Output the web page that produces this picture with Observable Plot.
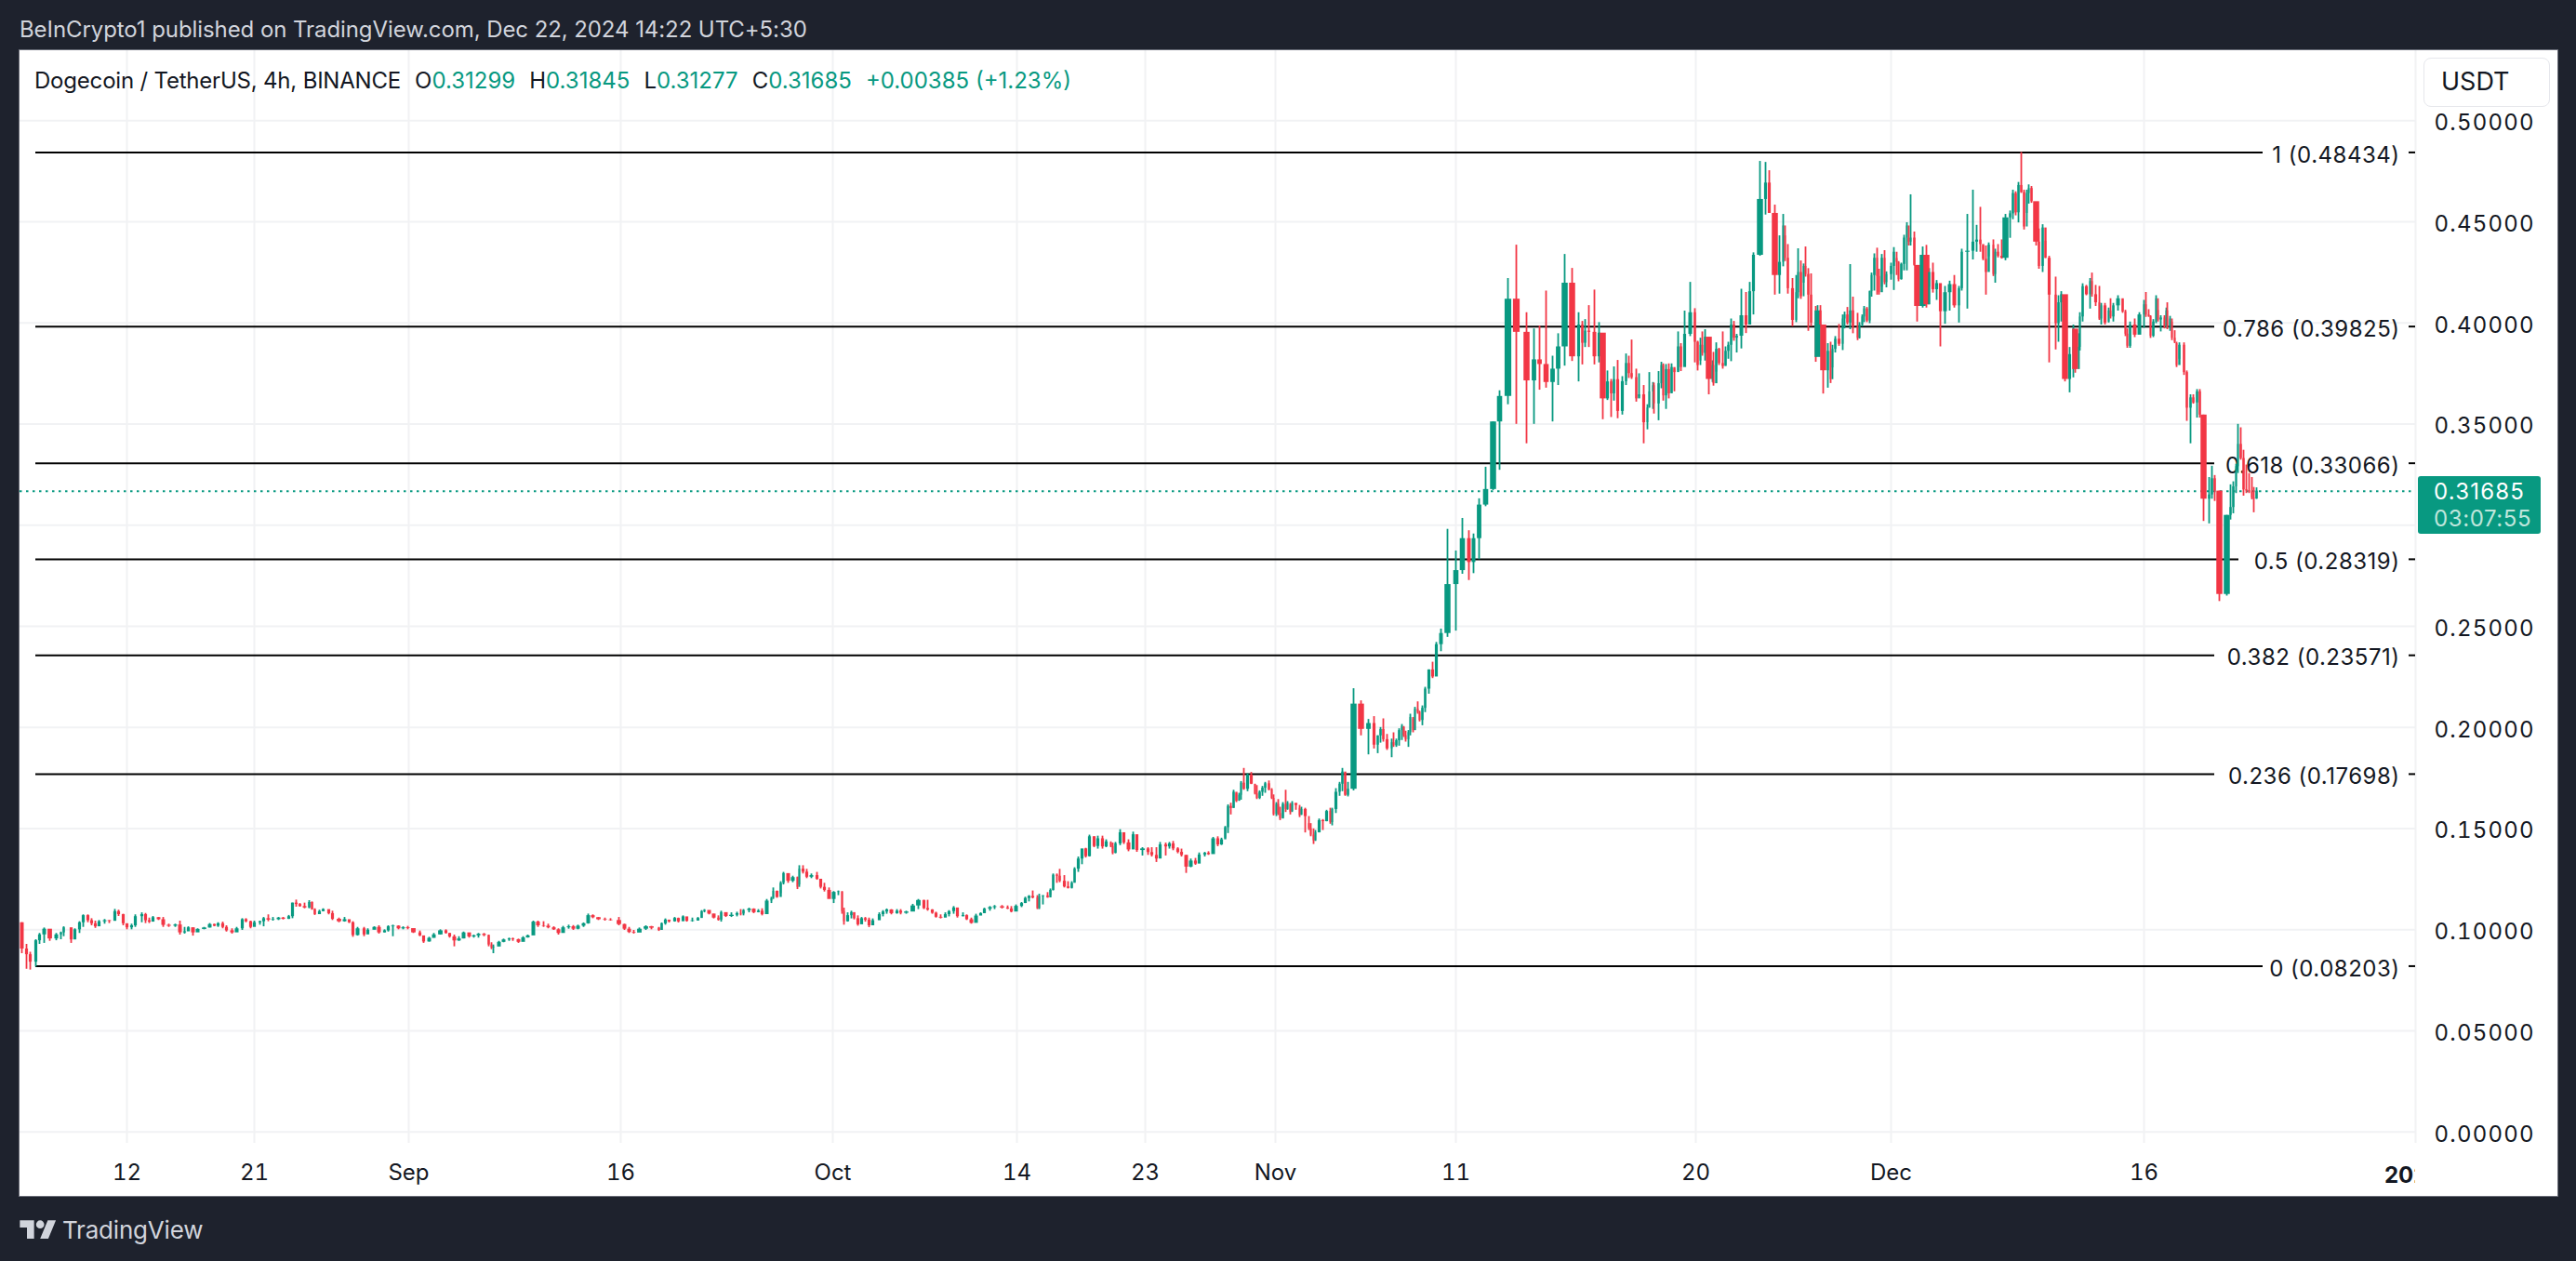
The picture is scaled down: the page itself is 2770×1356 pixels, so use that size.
<!DOCTYPE html>
<html>
<head>
<meta charset="utf-8">
<script src="https://cdn.jsdelivr.net/npm/d3@7"></script>
<script src="https://cdn.jsdelivr.net/npm/@observablehq/plot@0.6"></script>
<style>
  html, body { margin: 0; background: #1e222d; font-family: Inter, "Liberation Sans", sans-serif; }
  #page { position: relative; width: 2770px; height: 1356px; overflow: hidden; }
  #published { position: absolute; left: 21px; top: 17px; font-size: 24px; line-height: 30px; color: #d1d4dc; white-space: nowrap; letter-spacing: -0.08px; }
  #panel { position: absolute; left: 21px; top: 54px; width: 2729px; height: 1232px; background: #fff; box-shadow: 0 0 0 1px #6a6d78; }
  #panel svg { position: absolute; left: 0; top: 0; }
  #legend { position: absolute; left: 16px; top: 18px; height: 30px; font-size: 24px; line-height: 30px; color: #131722; white-space: nowrap; }
  #legend i { font-style: normal; letter-spacing: -0.2px; }
  #legend b { font-weight: 400; color: #089981; }
  #legend span { margin-left: 15px; }
  #usdt { position: absolute; left: 2585px; top: 8px; width: 134px; height: 51px; border: 1px solid #e6e7ec; border-radius: 8px; font-size: 27px; line-height: 49px; padding-left: 0; text-indent: 18px; color: #131722; }
  #badge { position: absolute; left: 2579px; top: 458px; width: 132px; height: 62px; border-radius: 3px; background: #089981; color: #fff; font-size: 24px; line-height: 29px; padding-top: 2px; box-sizing: border-box; text-indent: 17px; letter-spacing: 1.2px; }
  #badge div + div { color: #bfe6dc; letter-spacing: 0.6px; }
  #nextYear { position: absolute; left: 2543px; top: 1195px; width: 33px; overflow: hidden; font-size: 24px; line-height: 30px; font-weight: 700; color: #131722; white-space: nowrap; }
  #footer { position: absolute; left: 21px; top: 1305px; height: 36px; color: #d1d4dc; font-size: 26px; line-height: 36px; font-weight: 400; }
  #footer svg { position: absolute; left: 0; top: 3px; }
  #footer span { position: absolute; left: 46px; top: 0; letter-spacing: -0.2px; }
</style>
</head>
<body>
<div id="page">
  <div id="published">BeInCrypto1 published on TradingView.com, Dec 22, 2024 14:22 UTC+5:30</div>
  <div id="panel">
    <div id="legend"><i>Dogecoin / TetherUS, 4h, BINANCE</i><span>O<b>0.31299</b></span><span>H<b>0.31845</b></span><span>L<b>0.31277</b></span><span>C<b>0.31685</b></span><span><b>+0.00385 (+1.23%)</b></span></div>
    <div id="usdt">USDT</div>
    <div id="badge"><div>0.31685</div><div>03:07:55</div></div>
    <div id="nextYear">2025</div>
  </div>
  <div id="footer">
    <svg width="40" height="24" viewBox="0 0 36 22" fill="#d1d4dc"><path d="M14 22H7V11H0V4h14v18zM28 22h-8l7.5-18h8L28 22z"/><circle cx="20" cy="8" r="4"/></svg>
    <span>TradingView</span>
  </div>
</div>
<script>
// x is the position along the TradingView axis (bars aren't evenly spaced in the shot),
// prices are in 1/10000 USDT. Open = previous close.
const firstOpen = 1035;

const barPos = [
  2,7,11,17,21,26,32,39,44,47, 55,59,64,68,73,77,81,85,91,96,
  102,106,111,115,120,124,131,135,139,143, 149,154,160,167,172,177,181,186,191,198,
  204,209,213,218,222,228,233,239,243,248, 252,258,262,267,272,278,283,289,293,297,
  301,306,311,314,317,322,326,332,336,343, 349,354,358,363,370,374,381,386,392,396,
  401,407,412,417,423,430,434,440,445,452, 458,462,467,472,477,483,488,493,499,504,
  507,509,515,520,526,530,536,541,546,552, 557,563,568,574,579,584,590,595,600,606,
  611,616,622,629,635,644,650,655,660,666, 673,679,
  687,690,694,698,704,708,713,717,723,729, 733,736,741,746,751,754,759,765,771,775,
  778,784,789,794,798,803,808,810,814,818, 821,826,831,836,838,842,846,851,857,861,
  865,870,875,880,884,886,890,894,897,901, 905,909,913,917,924,928,932,937,943,947,
  953,960,966,972,976,981,985,990,995,999, 1004,1008,1014,1018,1023,1028,1033,1037,1043,1048,
  1056,1062,1066,1071,1077,1081,1085,1089,1094,1096, 1100,1105,1108,1111,1115,1118,1123,1127,1131,1134,
  1138,1142,1146,1150,1155,1159,1164,1168,1173,1175, 1178,1183,1187,1192,1197,1201,1207,1213,1217,1222,
  1226,1232,1236,1240,1245,1249,1254,1259,1264,1268, 1274,1278,
  1283,1288,1292,1296,1299,1302,1305,1308,1311,1313, 1316,1320,1324,1328,1330,1333,1336,1339,1343,1346,
  1348,1351,1353,1355,1358,1361,1363,1366,1368,1372, 1376,1378,1382,1386,1388,1391,1393,1397,1401,1405,
  1409,1411,1415,1419,1422,1425,1428,1434,1442,1450, 1456,1460,1463,1466,1470,1475,1477,1480,1483,1486,
  1488,1490,1493,1495,1498,1500,1503,1505,1508,1511, 1515,1519,1523,1528,1535,1544,1551,1558,1563,1569,
  1576,1584,1591,
  1600,1609,1620,1628,1634,1641,1648,1654,1661,1669, 1676,1680,1683,1687,1693,1698,1702,1707,1711,1714,
  1718,1723,1727,1730,1733,1738,1741,1746,1750,1752, 1756,1757,1762,1765,1767,1770,1773,1776,1779,1783,
  1786,1790,1796,1801,1804,1807,1809,1812,1816,1820, 1821,1824,1827,1831,1834,1837,1840,1843,1846,1851,
  1856,1860,1864,1871,1877,1881,1887,1892,1896,1898, 1901,1906,1910,1912,1915,1918,1920,1923,1926,1931,
  1933,1936,1939,1944,1947,1949,1952,1956,1960,1962, 1965,1968,1971,1976,1978,
  1981,1983,1986,1989,1991,1994,1997,1999,2002,2005, 2007,2012,2015,2018,2020,2023,2026,2029,2031,2033,
  2037,2040,2046,2050,2053,2057,2061,2065,2070,2075, 2080,2085,2088,2094,2100,2104,2108,2111,2114,2117,
  2122,2124,2127,2131,2135,2140,2143,2146,2149,2152, 2155,2158,2160,2163,2168,2171,2175,2178,2182,2189,
  2192,2195,2199,2204,2208,2210,2214,2215,2218,2222, 2226,2228,2232,2236,2238,2242,2246,2248,2251,2256,
  2261,2264,2266,2269,2274,2279,2284,2286,2289,2291, 2294,2297,2299,2302,2306,2308,2309,2312,2314,2317,
  2319,2322,2327,2330,2334,2337,2341,2344,
  2348,2354,2357,2360,2365,2373,2377,2380,2383,2385,2388,2391,2394,2397,2400,2402,2405
];

const barHigh = [
  1035,928,889,951,982,1009,989,982,989,1015, 974,1005,1040,1074,1074,1055,1043,1046,1051,1046,
  1101,1097,1077,1028,1028,1074,1084,1081,1058,1066, 1061,1061,1028,1028,1043,1012,1015,1009,1005,1012,
  1031,1028,1035,1038,1020,1005,1012,1055,1055,1043, 1043,1043,1061,1074,1061,1061,1061,1071,1132,1147,
  1130,1132,1144,1138,1104,1097,1104,1095,1092,1058, 1061,1043,1040,1012,1012,1005,1015,1020,1000,1020,
  1023,1020,1015,1017,1000,994,969,963,982,1000, 1000,982,974,966,989,974,974,982,982,974,
  936,925,943,954,959,959,954,966,974,1043, 1043,1040,1028,1015,1005,1017,1023,1021,1023,1034,
  1078,1074,1061,1058,1055,1061,1028,1012,997,1009, 1020,1017,
  1012,1034,1054,1046,1061,1058,1069,1061,1058,1061, 1095,1100,1089,1077,1069,1092,1080,1084,1087,1100,
  1100,1107,1104,1100,1104,1150,1161,1207,1192,1238, 1284,1276,1265,1261,1317,1317,1299,1276,1284,1241,
  1230,1207,1189,1192,1189,1107,1084,1092,1084,1069, 1061,1061,1058,1054,1084,1095,1103,1100,1100,1100,
  1092,1126,1150,1146,1146,1100,1087,1074,1084,1095, 1115,1100,1084,1074,1058,1077,1084,1107,1115,1120,
  1120,1118,1115,1123,1135,1161,1169,1192,1169,1176, 1169,1184,1202,1276,1276,1299,1268,1238,1238,1307,
  1360,1360,1403,1468,1460,1463,1463,1445,1429,1429, 1432,1495,1468,1445,1483,1460,1406,1406,1406,1406,
  1432,1429,1432,1437,1406,1399,1368,1350,1353,1380, 1383,1386,
  1457,1460,1453,1511,1618,1626,1690,1672,1675,1733, 1798,1772,1778,1718,1713,1687,1709,1729,1736,1698,
  1667,1629,1644,1606,1629,1690,1634,1618,1634,1624, 1601,1606,1601,1525,1525,1499,1491,1548,1545,1591,
  1601,1601,1698,1729,1798,1775,1729,2192,2132,2040, 2054,1959,2000,2043,1966,1943,1974,1943,1994,2015,
  2000,1982,1985,2066,2043,2100,2127,2081,2107,2199, 2285,2323,2421,2487,2980,2873,3034,2973,2957,3131,
  3287,3511,3665,
  4220,4385,4051,3971,3985,4158,3836,3947,4339,4270, 4051,4008,4017,4086,4163,4002,3944,3763,3721,3783,
  3815,3735,3847,3836,3916,3772,3749,3691,3596,3755, 3706,3703,3760,3806,3798,3795,3798,3798,3772,3956,
  3898,4059,4201,4071,3910,3925,3956,3967,3928,3813, 3855,3902,3875,3956,3882,3905,4020,4008,3944,4167,
  4151,4201,4347,4799,4794,4753,4583,4431,4537,4431, 4388,4220,4235,4367,4307,4292,4376,4269,4243,4082,
  4086,4086,3979,3898,3905,3890,3933,3993,4040,4054, 4077,4289,4128,4048,4002,
  4040,4082,4077,4158,4247,4342,4370,4266,4339,4358, 4253,4296,4373,4319,4304,4296,4434,4496,4419,4634,
  4450,4284,4376,4384,4269,4296,4210,4181,4181,4207, 4235,4181,4365,4537,4657,4483,4572,4381,4381,4396,
  4411,4365,4388,4411,4537,4554,4657,4649,4695,4843, 4657,4657,4683,4675,4546,4465,4486,4404,4330,4227,
  4135,4155,4097,3879,3990,3944,3947,4051,4194,4186, 4220,4247,4186,4181,4097,4097,4074,4120,4097,4135,
  4117,4063,3971,4005,4020,4051,4112,4151,4066,4036, 4017,4135,4062,4036,4036,4074,4100,4033,4005,3962,
  3898,3902,3902,3763,3645,3645,3671,3671,
  3545,3236,3292,3246,3169,3049,3200,3215,3302,3499,3482,3371,3298,3256,3236,3187,3185
];

const barLow = [
  882,805,801,816,928,933,943,946,951,966, 933,966,982,1012,1035,1020,1007,1020,1028,1031,
  1043,1066,1020,1000,1000,1012,1035,1031,1031,1040, 1046,1012,1012,1012,974,979,994,969,994,1000,
  1009,1015,1012,1005,989,979,989,997,1035,1005, 1020,1023,1015,1040,1043,1046,1049,1051,1055,1112,
  1112,1104,1104,1097,1071,1077,1089,1074,1046,1035, 1038,1031,963,969,966,982,1000,979,985,989,
  966,1000,1000,1000,982,966,933,939,959,974, 979,959,916,943,955,959,959,959,966,916,
  902,882,920,936,943,943,933,943,959,974, 1012,1012,1005,997,974,997,1003,997,1000,1012,
  1028,1055,1046,1043,1043,1020,997,982,979,989, 997,1000,
  992,997,1023,1034,1038,1034,1054,1038,1038,1043, 1058,1084,1074,1054,1043,1038,1061,1061,1064,1069,
  1069,1084,1080,1084,1069,1084,1130,1150,1156,1179, 1222,1230,1233,1199,1222,1276,1253,1253,1245,1202,
  1187,1169,1130,1169,1077,1023,1038,1054,1049,1018, 1031,1038,1011,1023,1049,1064,1077,1074,1077,1074,
  1077,1092,1100,1100,1092,1077,1058,1054,1061,1064, 1077,1058,1064,1046,1028,1049,1072,1080,1092,1100,
  1103,1100,1084,1092,1110,1130,1138,1153,1100,1100, 1123,1156,1169,1192,1230,1233,1207,1202,1202,1233,
  1284,1322,1355,1360,1406,1399,1399,1406,1406,1371, 1376,1416,1422,1386,1406,1383,1365,1368,1360,1333,
  1383,1365,1399,1391,1376,1360,1279,1307,1319,1337, 1360,1368,
  1402,1411,1417,1453,1476,1568,1601,1629,1637,1641, 1690,1683,1718,1667,1644,1644,1660,1675,1687,1644,
  1563,1560,1565,1540,1555,1580,1591,1568,1586,1591, 1555,1568,1479,1491,1460,1422,1437,1479,1491,1534,
  1522,1514,1575,1660,1683,1660,1657,1687,1959,1865, 1894,1871,1923,1928,1887,1851,1902,1902,1908,1936,
  1951,1928,1902,1959,1974,1985,2066,2028,2009,2074, 2165,2242,2260,2375,2446,2477,2758,2727,2761,2830,
  3092,3172,3272,
  3596,3499,3403,3499,3668,3678,3511,3691,3787,3810, 3709,3793,3879,3879,3793,3803,3522,3617,3533,3614,
  3527,3545,3691,3726,3721,3609,3634,3403,3472,3579, 3573,3550,3517,3675,3614,3573,3625,3655,3660,3763,
  3760,3827,3933,3803,3763,3812,3836,3812,3645,3706, 3688,3757,3790,3772,3790,3821,3809,3910,3852,3872,
  3948,3990,4040,4330,4534,4542,4138,4143,4278,4304, 4143,3982,4002,4120,4117,4197,4227,3959,3982,3806,
  3905,3974,3649,3678,3701,3778,3852,3885,3864,3971, 3990,3967,3947,3913,3921,
  3981,4002,4002,3997,4128,4158,4138,4138,4177,4189, 4174,4212,4161,4235,4204,4212,4258,4258,4381,4381,
  4281,4005,4074,4074,4177,4148,4112,3882,3994,4059, 4074,4000,4158,4069,4312,4350,4350,4308,4138,4327,
  4230,4197,4322,4316,4308,4419,4511,4530,4495,4641, 4460,4542,4588,4592,4381,4266,4250,4319,3803,3867,
  3905,4005,3709,3655,3729,3752,3862,3862,4005,4135, 4069,4128,4082,4013,3990,3990,4005,4020,4005,4059,
  4048,3933,3875,3875,3928,3993,3974,4028,4028,3924, 3928,3997,4005,3956,3971,3974,3967,3959,3913,3898,
  3780,3821,3741,3514,3403,3599,3530,3530,
  3019,3007,3129,3118,2623,2650,3026,3057,3157,3256,3322,3144,3157,3157,3126,3062,3128
];

const barClose = [
  905,877,840,946,975,1003,955,975,985,1010, 950,1000,1035,1070,1045,1030,1015,1040,1045,1042,
  1090,1075,1030,1010,1020,1065,1075,1045,1038,1060, 1050,1022,1018,1024,985,990,1010,985,1002,1009,
  1026,1018,1030,1012,995,985,1005,1050,1040,1012, 1035,1040,1055,1048,1050,1058,1052,1065,1132,1125,
  1115,1108,1135,1100,1075,1090,1100,1080,1052,1040, 1050,1035,972,1005,975,998,1012,985,995,1015,
  1018,1005,1010,1006,985,970,940,958,975,995, 982,965,945,955,985,965,970,978,972,925,
  910,915,938,950,955,951,938,960,970,1038, 1020,1018,1010,1000,982,1010,1015,1003,1018,1030,
  1070,1060,1050,1048,1046,1026,1003,987,984,1003, 1015,1008,
  997,1030,1048,1040,1056,1040,1064,1042,1044,1056, 1090,1096,1078,1058,1048,1085,1066,1072,1080,1078,
  1095,1102,1085,1092,1075,1142,1155,1190,1160,1230, 1278,1240,1258,1210,1300,1285,1260,1268,1250,1210,
  1195,1150,1185,1187,1090,1040,1070,1085,1055,1025, 1055,1048,1020,1045,1075,1088,1098,1080,1092,1082,
  1088,1118,1145,1105,1098,1082,1062,1058,1075,1090, 1108,1065,1070,1050,1032,1068,1080,1102,1110,1114,
  1108,1103,1088,1116,1130,1155,1165,1158,1105,1165, 1168,1158,1195,1270,1265,1240,1212,1205,1230,1300,
  1350,1400,1362,1460,1412,1450,1410,1435,1412,1378, 1425,1480,1430,1395,1470,1392,1400,1382,1368,1350,
  1420,1410,1425,1400,1383,1368,1310,1340,1325,1370, 1378,1372,
  1450,1420,1445,1505,1610,1600,1680,1635,1665,1725, 1695,1765,1720,1672,1650,1680,1700,1722,1692,1650,
  1570,1620,1575,1548,1620,1595,1625,1580,1625,1615, 1565,1595,1560,1500,1468,1440,1480,1540,1535,1585,
  1530,1595,1680,1720,1780,1665,1695,2116,1991,2020, 1913,1959,1990,1940,1895,1925,1910,1935,1985,2005,
  1960,1940,1975,2050,1985,2090,2075,2035,2095,2190, 2285,2250,2410,2465,2707,2776,2934,2816,2934,3100,
  3177,3511,3637,
  4118,3954,3714,3818,3795,3706,3772,3882,4197,3833, 3990,3900,3960,3954,3833,3950,3625,3709,3650,3720,
  3563,3710,3800,3750,3730,3625,3645,3507,3580,3660, 3690,3600,3700,3790,3640,3770,3650,3780,3755,3882,
  3780,3944,4051,3905,3790,3890,3850,3930,3721,3790, 3700,3870,3800,3785,3860,3890,3990,3925,3935,4036,
  3990,4155,4335,4611,4692,4542,4235,4300,4480,4320, 4170,4013,4150,4250,4130,4280,4240,4138,4000,3830,
  4060,3990,3764,3860,3720,3870,3920,3895,4020,4040, 4000,4060,3980,3925,3990,
  4030,4070,4010,4155,4235,4320,4230,4150,4320,4200, 4240,4280,4350,4300,4215,4290,4420,4480,4400,4420,
  4285,4082,4335,4090,4250,4165,4195,4056,4150,4190, 4085,4170,4350,4355,4400,4410,4388,4315,4250,4385,
  4240,4350,4330,4320,4520,4540,4640,4545,4680,4645, 4475,4640,4665,4600,4400,4280,4470,4320,4138,3997,
  4100,4140,3721,3844,3970,3770,3880,4030,4180,4140, 4205,4140,4100,4020,4085,4000,4060,4030,4085,4120,
  4055,3945,3885,3990,3940,4040,4090,4040,4032,3935, 4005,4120,4015,4025,3980,4060,3975,4020,3925,3905,
  3790,3890,3755,3579,3630,3605,3660,3545,
  3129,3150,3230,3169,2658,3049,3088,3190,3290,3400,3330,3175,3170,3165,3135,3130,3169
];

const fibRatios = ["1", "0.786", "0.618", "0.5", "0.382", "0.236", "0"];
const fibPrices = [0.48434, 0.39825, 0.33066, 0.28319, 0.23571, 0.17698, 0.08203];

const yTicks = [0, 0.05, 0.1, 0.15, 0.2, 0.25, 0.3, 0.35, 0.4, 0.45, 0.5];
const xTickPos = [115, 252, 418, 646, 874, 1072, 1210, 1350, 1544, 1802, 2012, 2284];
const xTickLabels = ["12", "21", "Sep", "16", "Oct", "14", "23", "Nov", "11", "20", "Dec", "16"];
const axisEnd = 2576; // the cut-off 2025 tick sits on the price axis edge
const lastClose = 0.31685;

if (new Set([barPos.length, barHigh.length, barLow.length, barClose.length]).size > 1) {
  throw new Error(`bar arrays differ: ${barPos.length} ${barHigh.length} ${barLow.length} ${barClose.length}`);
}

const UP = "#089981";
const DOWN = "#f23645";
const GRID = "#f1f2f4";

const bars = barPos.map((pos, i) => {
  const open = (i ? barClose[i - 1] : firstOpen) / 1e4;
  const close = barClose[i] / 1e4;
  const gapPrev = i ? pos - barPos[i - 1] : 6;
  const gapNext = i < barPos.length - 1 ? barPos[i + 1] - pos : 6;
  // tall bodies are fatter in the shot than the bar spacing alone would give
  const tall = Math.abs(close - open) > 0.02 ? 6.5 : 0;
  return {
    pos,
    open,
    close,
    high: barHigh[i] / 1e4,
    low: barLow[i] / 1e4,
    color: close >= open ? UP : DOWN,
    bodyWidth: Math.max(1.8, tall, Math.min(8, Math.min(gapPrev, gapNext) * 0.8)),
  };
});

const fibs = fibRatios.map((ratio, i) => {
  const label = `${ratio} (${fibPrices[i].toFixed(5)})`;
  return { price: fibPrices[i], label, lineEnd: 2555 - label.length * 13 };
});
const tickLabelAt = new Map(xTickPos.map((p, i) => [p, xTickLabels[i]]));
const FONT = "Inter, 'Liberation Sans', sans-serif";

const chart = Plot.plot({
  width: 2729,
  height: 1232,
  marginTop: 0,
  marginLeft: 0,
  marginRight: 153,
  marginBottom: 57,
  style: { background: "transparent", fontFamily: FONT },
  x: { type: "linear", domain: [0, axisEnd], range: [0, axisEnd] },
  y: { domain: [-0.00559, 0.53464] },
  marks: [
    Plot.ruleY(yTicks, { stroke: GRID, strokeWidth: 2 }),
    Plot.ruleX([...xTickPos, axisEnd], { stroke: GRID, strokeWidth: 2 }),

    Plot.ruleY([lastClose], { stroke: UP, strokeWidth: 2, strokeDasharray: "2.5,4.5" }),

    // fib levels, each line stops short of its label
    Plot.ruleY(fibs, { y: "price", x1: 17, x2: "lineEnd", stroke: "#000", strokeWidth: 2 }),
    Plot.ruleY(fibs, { y: "price", x1: 2569, x2: axisEnd, stroke: "#000", strokeWidth: 2 }),
    Plot.text(fibs, {
      x: 2559,
      y: "price",
      dy: 3,
      text: "label",
      textAnchor: "end",
      fontSize: 24,
      fill: "#131722",
    }),

    Plot.ruleX(bars, { x: "pos", y1: "low", y2: "high", stroke: "color", strokeWidth: 1.8 }),
    Plot.ruleX(bars, { x: "pos", y1: "open", y2: "close", stroke: "color", strokeWidth: "bodyWidth" }),

    Plot.axisY({
      anchor: "right",
      // 0.30000 sits behind the price badge in the shot, so no label for it
      ticks: yTicks.filter((t) => t !== 0.3),
      tickFormat: d3.format(".5f"),
      tickSize: 0,
      tickPadding: 20,
      dy: 2.5,
      label: null,
      fontSize: 24,
      color: "#131722",
    }),
    Plot.axisX({
      anchor: "bottom",
      ticks: xTickPos,
      tickFormat: (d) => tickLabelAt.get(d),
      tickSize: 0,
      tickPadding: 22,
      label: null,
      fontSize: 24,
      color: "#131722",
    }),
  ],
});

// the screenshot's digits run wider than Inter's
d3.select(chart).selectAll("text").each(function () {
  const t = this.textContent;
  if (/^\d\.\d{5}$/.test(t)) this.style.letterSpacing = "1.2px";
  else if (t.includes("(")) this.style.letterSpacing = "0.5px";
});

document.getElementById("panel").prepend(chart);
</script>
</body>
</html>
